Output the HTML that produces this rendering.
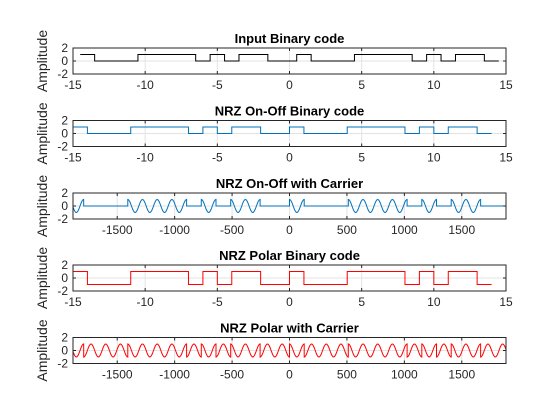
<!DOCTYPE html>
<html><head><meta charset="utf-8">
<style>
body{margin:0;background:#fff;}
svg{display:block;font-family:"Liberation Sans",Arial,sans-serif;}
</style></head>
<body>
<svg id="fig" width="560" height="420" viewBox="0 0 560 420" xmlns="http://www.w3.org/2000/svg"></svg>
<script>
const bitPositions = [-14,-13,-12,-11,-10,-9,-8,-7,-6,-5,-4,-3,-2,-1,0,1,2,3,4,5,6,7,8,9,10,11,12,13,14];
const bitValues = [1,0,0,0,1,1,1,1,0,1,0,1,1,0,0,1,0,0,0,1,1,1,1,0,1,0,1,1,0];
const codeTicks = [-15,-10,-5,0,5,10,15];
const carrierTicks = [-1500,-1000,-500,0,500,1000,1500];
const yTicks = [2,0,-2];
const samplesPerBit = 128;

const svg = document.getElementById('fig');
const NS = 'http://www.w3.org/2000/svg';
const X0 = 73, X1 = 506;
function el(tag, attrs, parent){
  const e = document.createElementNS(NS, tag);
  for (const k in attrs) e.setAttribute(k, attrs[k]);
  (parent||svg).appendChild(e);
  return e;
}
const panels = [
  {top:48, title:'Input Binary code', xmin:-15, xmax:15, ticks:codeTicks, color:'#000', kind:'input', name:'input-binary'},
  {top:120.5, title:'NRZ On-Off Binary code', xmin:-15, xmax:15, ticks:codeTicks, color:'#0072bd', kind:'nrz', name:'nrz-onoff'},
  {top:193, title:'NRZ On-Off with Carrier', xmin:-1885, xmax:1885, ticks:carrierTicks, color:'#0072bd', kind:'onoffc', name:'onoff-carrier'},
  {top:265, title:'NRZ Polar Binary code', xmin:-15, xmax:15, ticks:codeTicks, color:'#ff0000', kind:'polar', name:'polar-binary'},
  {top:337.5, title:'NRZ Polar with Carrier', xmin:-1885, xmax:1885, ticks:carrierTicks, color:'#ff0000', kind:'polarc', name:'polar-carrier'}
];
const H = 26;
panels.forEach(p=>{
  const g = el('g', {});
  
  
  const sx = v => X0 + (v - p.xmin) / (p.xmax - p.xmin) * (X1 - X0);
  const sy = v => p.top + (2 - v) / 4 * H;
  p.ticks.forEach(t=>{
    const x = sx(t);
    if (x > X0+0.5 && x < X1-0.5) el('line',{x1:x,x2:x,y1:p.top,y2:p.top+H,stroke:'#e3e3e3','stroke-width':1},g);
  });
  el('line',{x1:X0,x2:X1,y1:sy(0),y2:sy(0),stroke:'#e3e3e3','stroke-width':1},g);
  let pts = [];
  const last = bitPositions.length-1;
  if (p.kind==='input'){
    bitPositions.forEach((b,i)=>{ pts.push([b-0.5,bitValues[i]],[b+0.5,bitValues[i]]); });
  } else if (p.kind==='nrz' || p.kind==='polar'){
    bitPositions.forEach((b,i)=>{
      const v = p.kind==='nrz' ? bitValues[i] : (bitValues[i]?1:-1);
      pts.push([b-1,v],[b,v]);
    });
  } else {
    bitPositions.forEach((b,i)=>{
      const v = p.kind==='onoffc' ? bitValues[i] : (bitValues[i]?1:-1);
      const n = 24;
      const span = (i===last) ? 2 : 1;
      for (let k=0;k<=n*span;k++){
        const t = (b-1)*samplesPerBit + k*samplesPerBit/n;
        pts.push([t, v*Math.cos(2*Math.PI*t/samplesPerBit)]);
      }
    });
  }
  const clip = 'clip'+p.name;
  const cp = el('clipPath',{id:clip},g);
  el('rect',{x:X0,y:p.top,width:X1-X0,height:H},cp);
  const line = el('path',{d:'M'+pts.map(q=>sx(q[0]).toFixed(2)+','+sy(q[1]).toFixed(2)).join('L'),fill:'none',stroke:p.color,'stroke-width':1,'clip-path':'url(#'+clip+')'},g);
  
  
  el('rect',{x:X0,y:p.top,width:X1-X0,height:H,fill:'none',stroke:'#262626','stroke-width':1},g);
  p.ticks.forEach(t=>{
    const x = sx(t);
    el('line',{x1:x,x2:x,y1:p.top+H,y2:p.top+H-3,stroke:'#262626'},g);
    el('line',{x1:x,x2:x,y1:p.top,y2:p.top+3,stroke:'#262626'},g);
    const tx = el('text',{x:x,y:p.top+H+15,'text-anchor':'middle','font-size':12,fill:'#262626'},g);
    tx.textContent = t;
    
    
  });
  yTicks.forEach(t=>{
    const y = sy(t);
    el('line',{x1:X0,x2:X0+3,y1:y,y2:y,stroke:'#262626'},g);
    el('line',{x1:X1,x2:X1-3,y1:y,y2:y,stroke:'#262626'},g);
    const ty = el('text',{x:X0-5,y:y+4,'text-anchor':'end','font-size':12,fill:'#262626'},g);
    ty.textContent = t;
    
    
  });
  const title = el('text',{x:(X0+X1)/2,y:p.top-5,'text-anchor':'middle','font-size':13,'font-weight':'bold',fill:'#000'},g);
  title.textContent = p.title;
  
  
  const cy = p.top + H/2;
  const yl = el('text',{x:0,y:0,transform:'translate(47,'+cy+') rotate(-90)','text-anchor':'middle','font-size':14,fill:'#262626'},g);
  yl.textContent = 'Amplitude';
  
  
});
</script>
</body></html>
